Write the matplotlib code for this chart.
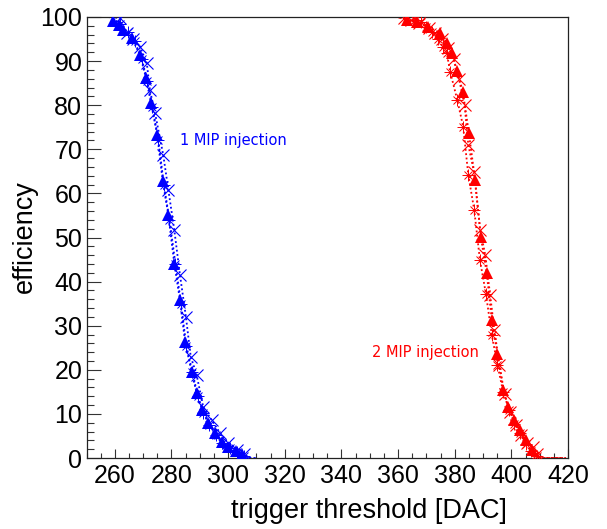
import numpy as np
import matplotlib
matplotlib.use('Agg')
import matplotlib.pyplot as plt

# 1 MIP injection (blue)
b_tri_x = [250, 252, 254, 256, 258, 259.5, 261.3, 263, 266, 268.9, 271, 272.8, 275, 276.9, 278.9,
           281, 283, 284.8, 287.1, 288.9, 290.9, 293, 295.4, 297.7, 300.1, 302.8, 304.9, 307, 309]
b_tri_y = [100, 100, 100, 100, 100, 99.0, 98.2, 97.0, 95.2, 91.4, 86.2, 80.4, 73.2, 62.8, 55.1,
           44.1, 35.8, 26.4, 19.6, 14.7, 10.9, 7.9, 5.6, 3.7, 2.6, 1.7, 1.0, 0, 0]

b_crs_x = [251, 253, 255, 257, 259, 261.8, 264.2, 266.5, 268.9, 271.3, 272.4, 274.2, 277.1, 278.9,
           281.0, 283.0, 285.1, 286.8, 288.9, 291.2, 294.2, 297.1, 300.0, 303, 305.5, 308, 310]
b_crs_y = [100, 100, 100, 100, 100, 99.7, 96.3, 95.0, 93.3, 89.5, 83.4, 78.2, 68.7, 60.8,
           51.7, 41.5, 32.0, 23.0, 18.8, 11.6, 8.6, 5.7, 3.4, 1.8, 0.8, 0, 0]

b_ast_x = [250, 254, 258, 262, 264.5, 267, 269.5, 271.5, 273.3, 275.4, 277.3, 279.3, 281.4, 283.4,
           285.2, 287.4, 289.3, 291.3, 293.4, 295.8, 298, 300.5, 303, 305.5, 308]
b_ast_y = [100, 100, 100, 98.5, 96.5, 94.5, 90.5, 85.5, 79.5, 72, 62, 54, 44, 35,
           25.5, 19.5, 14, 10.3, 7.5, 5.2, 3.5, 2.3, 1.3, 0.5, 0]

# 2 MIP injection (red)
r_tri_x = [350, 352, 354, 356, 358, 360, 363.1, 366.6, 370.6, 374.9, 377.2, 379.0, 380.8, 382.9,
           385.0, 387.2, 389.2, 391.3, 393.1, 395.1, 397.2, 398.9, 401.0, 403.1, 405.2, 407.2,
           409.2, 412, 416, 420]
r_tri_y = [100, 100, 100, 100, 100, 100, 99.3, 98.9, 97.8, 96.4, 94.1, 91.8, 87.8, 83.0,
           73.7, 63.0, 50.2, 41.9, 31.3, 23.6, 15.4, 11.6, 8.6, 6.3, 4.1, 1.8,
           0, 0, 0, 0]

r_crs_x = [351, 353, 355, 357, 359, 362, 364.5, 367.5, 371, 373.1, 375.5, 377.8, 379.6, 381.5,
           383.5, 384.8, 386.8, 389.0, 390.8, 392.5, 394, 395.8, 397.6, 399.5, 401.5, 403.5,
           405.5, 407.5, 409.2, 411, 415, 419]
r_crs_y = [100, 100, 100, 100, 100, 99.7, 99.3, 98.7, 97.5, 96.3, 95.0, 93.0, 90.5, 86.0,
           80.0, 71.0, 64.9, 51.7, 46.0, 37.0, 29.0, 21.0, 14.5, 10.5, 7.5, 5.2,
           3.3, 2.5, 1.0, 0, 0, 0]

r_ast_x = [350, 354, 358, 362, 364, 366, 368, 370, 372, 374, 376, 377.2, 378.4, 380.9, 383.0,
           384.8, 386.9, 388.9, 391.0, 393.1, 395.1, 397.1, 399.2, 401.1, 403.1, 405.1, 407.1,
           409, 410, 414, 418]
r_ast_y = [100, 100, 100, 100, 100, 99.4, 98.8, 97.8, 96.5, 95.0, 93.2, 91.8, 87.6, 81.2, 75.1,
           64.2, 56.2, 44.9, 37.3, 27.9, 21.1, 15.0, 10.9, 7.8, 5.7, 3.2, 1.5,
           0.5, 0, 0, 0]

BLUE = '#0000ff'
RED = '#ff0000'
LS = (0, (1, 1.4))

fig = plt.figure(figsize=(6.07, 5.29), dpi=100)
ax = fig.add_axes([86.5/607, 1-458/529, (568-86.5)/607, (458-17)/529])


def draw(x, y, color, kind):
    x = np.array(x, dtype=float)
    y = np.array(y, dtype=float)
    ax.plot(x, y, linestyle=LS, color=color, lw=1.3, zorder=2)
    m = (y > 0) & (y < 100)
    if kind == 'tri':
        ax.plot(x[m], y[m], '^', color=color, ms=8.5, mew=0, zorder=3)
    elif kind == 'crs':
        ax.plot(x[m], y[m], 'x', color=color, ms=8.5, mew=0.8, zorder=3)
    else:
        ax.plot(x[m], y[m], 'x', color=color, ms=6, mew=0.7, zorder=3)
        ax.plot(x[m], y[m], '+', color=color, ms=8, mew=0.7, zorder=3)


draw(b_tri_x, b_tri_y, BLUE, 'tri')
draw(b_crs_x, b_crs_y, BLUE, 'crs')
draw(b_ast_x, b_ast_y, BLUE, 'ast')
draw(r_tri_x, r_tri_y, RED, 'tri')
draw(r_crs_x, r_crs_y, RED, 'crs')
draw(r_ast_x, r_ast_y, RED, 'ast')

ax.set_xlim(250, 420)
ax.set_ylim(0, 100)
ax.set_xticks(np.arange(260, 421, 20))
ax.set_xticks(np.arange(250, 421, 5), minor=True)
ax.set_yticks(np.arange(0, 101, 10))
ax.set_yticks(np.arange(0, 101, 2), minor=True)

for s in ax.spines.values():
    s.set_linewidth(0.9)
    s.set_color('#222222')

ax.tick_params(which='both', direction='in', top=False, right=False,
               color='#333333', width=0.8)
ax.tick_params(axis='x', which='major', length=6.7, pad=4)
ax.tick_params(axis='x', which='minor', length=3.6)
ax.tick_params(axis='y', which='major', length=10, pad=3)
ax.tick_params(axis='y', which='minor', length=5)
for lab in ax.get_xticklabels() + ax.get_yticklabels():
    lab.set_fontfamily('Liberation Sans')
    lab.set_fontsize(18)

fig.text(180/607, 1-140/529, '1 MIP injection', color=BLUE, fontsize=10.5,
         va='center', ha='left')
fig.text(372/607, 1-353/529, '2 MIP injection', color=RED, fontsize=10.5,
         va='center', ha='left')

fig.text(507/607, 1-511/529, 'trigger threshold [DAC]', family='Liberation Sans',
         fontsize=19.5, ha='right', va='center')
fig.text(25/607, 1-237/529, 'efficiency', family='Liberation Sans',
         fontsize=19.5, ha='center', va='center', rotation=90)

fig.savefig('out.png', dpi=100)
